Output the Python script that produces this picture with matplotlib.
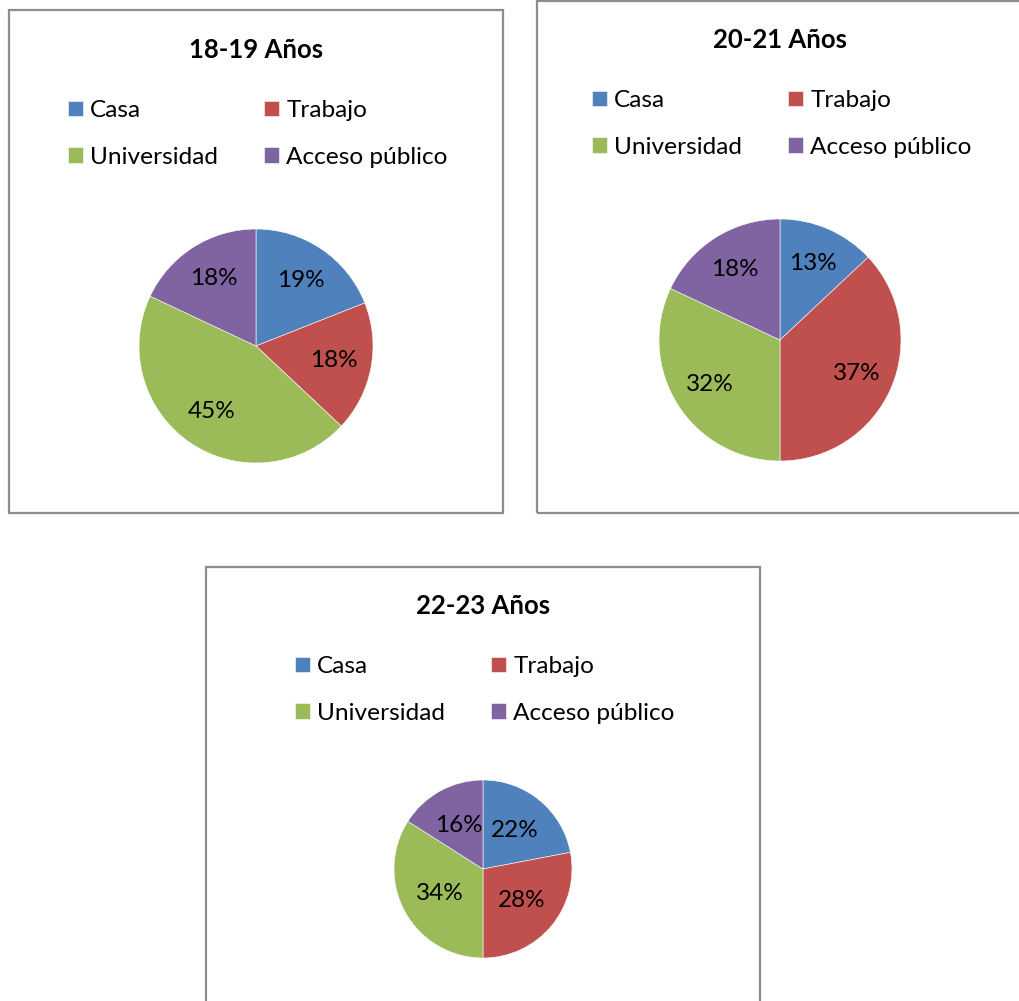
import matplotlib
matplotlib.use("Agg")
import matplotlib.pyplot as plt
from matplotlib.patches import Rectangle

# data
categorias = ["Casa", "Trabajo", "Universidad", "Acceso público"]
colores = ["#4F81BD", "#C0504D", "#9BBB59", "#8064A2"]
titulos = ["18-19 Años", "20-21 Años", "22-23 Años"]
valores_18_19 = [19, 18, 45, 18]
valores_20_21 = [13, 37, 32, 18]
valores_22_23 = [22, 28, 34, 16]
valores = [valores_18_19, valores_20_21, valores_22_23]

W, H = 1019, 1001
plt.rcParams['font.family'] = ['Lato', 'DejaVu Sans']

fig = plt.figure(figsize=(W / 100, H / 100), dpi=100)
fig.patch.set_facecolor("white")


def fx(x):
    return x / W


def fy(y):
    return 1 - y / H


# layout per panel (pixels): box, pie centre + radius, title y, legend centre
paneles = [
    dict(box=(9, 10, 503, 513), c=(256, 346), r=117, ty=50, lg=(258, 134), pct=0.68),
    dict(box=(537, 1, 1030, 513), c=(780, 340), r=121, ty=40, lg=(782, 124), pct=0.69),
    dict(box=(206, 567, 760, 1030), c=(483, 869), r=89, ty=606, lg=(485, 690), pct=0.56),
]

for p, vals, tit in zip(paneles, valores, titulos):
    x0, y0, x1, y1 = p["box"]
    fig.patches.append(Rectangle((fx(x0), fy(y1)), fx(x1 - x0), (y1 - y0) / H,
                                 transform=fig.transFigure, fill=False,
                                 edgecolor="#8c8c8c", linewidth=1.6))

    cx, cy = p["c"]
    r = p["r"]
    ax = fig.add_axes([fx(cx - r), fy(cy + r), 2 * r / W, 2 * r / H])
    wedges, _, autotexts = ax.pie(vals, colors=colores, startangle=90, counterclock=False,
                                  autopct="%1.0f%%", pctdistance=p["pct"], radius=1,
                                  wedgeprops=dict(linewidth=0.4, edgecolor="white"),
                                  textprops=dict(fontsize=17.5, color="black"))
    ax.set_xlim(-1, 1)
    ax.set_ylim(-1, 1)
    ax.set_aspect("auto")

    fig.text(fx(cx), fy(p["ty"]), tit, ha="center", va="center",
             fontsize=18.5, fontweight="bold")

    # row-wise order for a 2-column legend
    orden = [0, 2, 1, 3]
    fsz = 17.6
    fpx = fsz * 100 / 72
    fig.legend([wedges[i] for i in orden], [categorias[i] for i in orden],
               ncol=2, loc="center", bbox_to_anchor=(fx(p["lg"][0]), fy(p["lg"][1])),
               frameon=False, fontsize=fsz, handlelength=15 / fpx, handleheight=15 / fpx,
               handletextpad=7 / fpx, columnspacing=46 / fpx, labelspacing=(50 - fpx) / fpx,
               borderpad=0, borderaxespad=0)

fig.savefig("out.png", dpi=100, facecolor="white")
